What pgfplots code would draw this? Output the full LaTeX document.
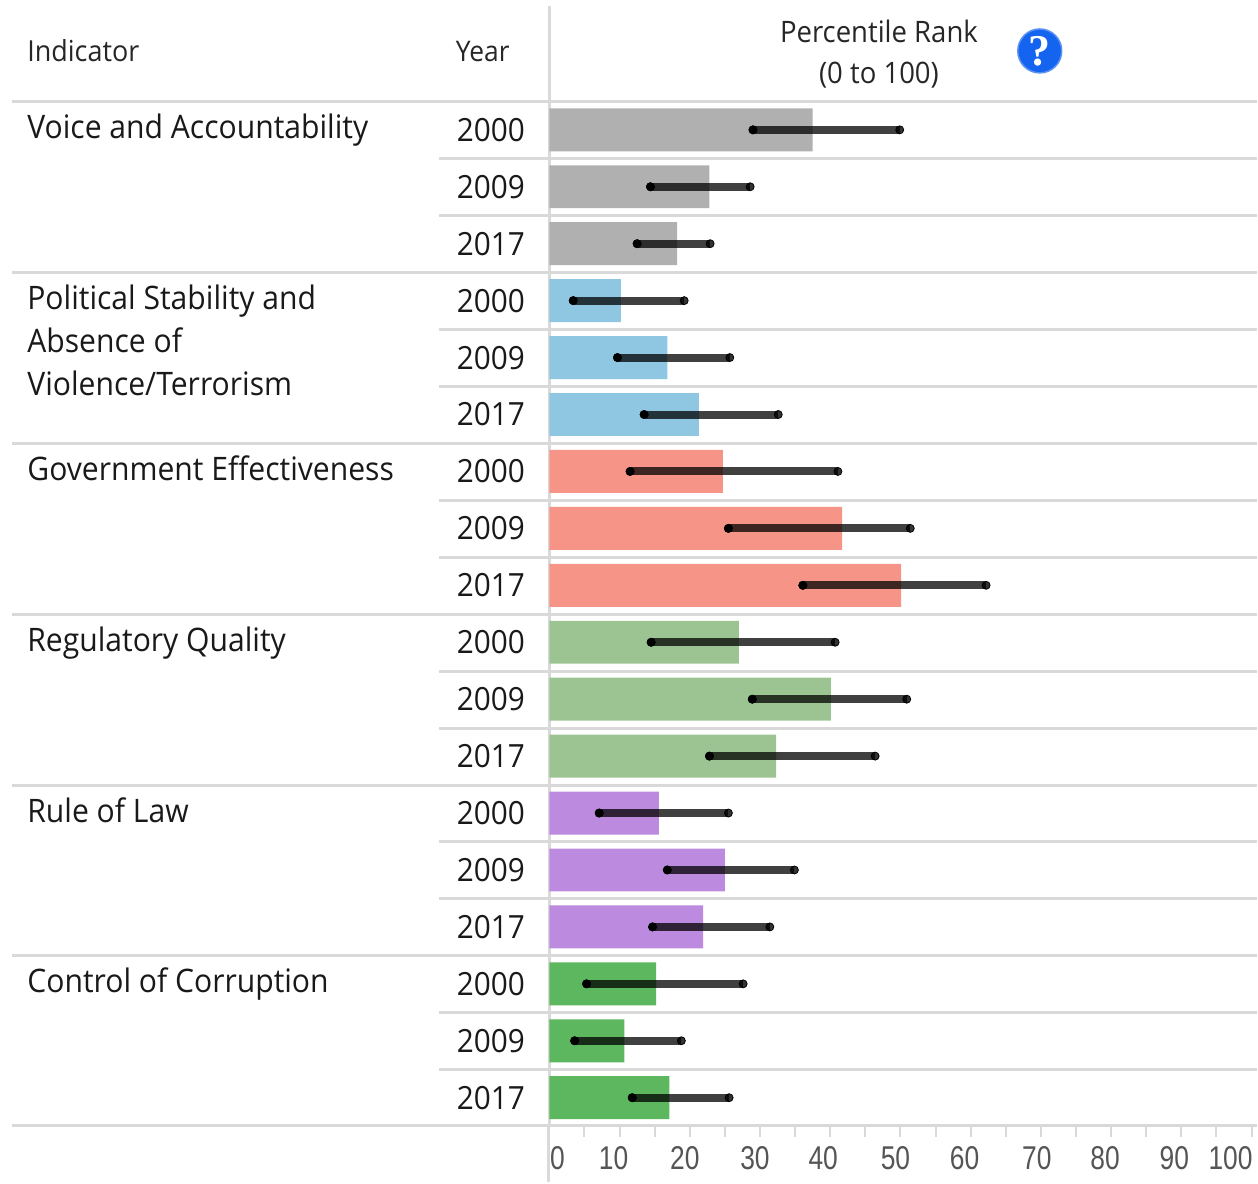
\documentclass[border=0pt]{standalone}
\usepackage{fontspec}
\setmainfont[FakeStretch=0.93]{Open Sans}
\newfontfamily\tickfont[FakeStretch=0.8]{Liberation Sans}
\newfontfamily\iconfont{Liberation Serif}
\usepackage{pgfplots}
\usepackage{pgfplotstable}
\pgfplotsset{compat=1.18}

\definecolor{rulegray}{HTML}{D9D9D9}
\definecolor{tickgray}{HTML}{555555}
\definecolor{vagray}{HTML}{B0B0B0}
\definecolor{psblue}{HTML}{8FC7E3}
\definecolor{gesalmon}{HTML}{F79488}
\definecolor{rqgreen}{HTML}{9CC493}
\definecolor{rlpurple}{HTML}{BC8BDF}
\definecolor{ccgreen}{HTML}{5DB75F}
\definecolor{iconblue}{HTML}{1464F0}

% row  low  estimate  high
\pgfplotstableread{
row lo est hi
1 29.0 37.5 49.9
2 14.4 22.8 28.6
3 12.5 18.2 22.9
}\tabVA
\pgfplotstableread{
row lo est hi
4 3.4 10.2 19.2
5 9.7 16.8 25.7
6 13.5 21.3 32.6
}\tabPS
\pgfplotstableread{
row lo est hi
7 11.5 24.7 41.1
8 25.5 41.7 51.4
9 36.1 50.1 62.2
}\tabGE
\pgfplotstableread{
row lo est hi
10 14.5 27.0 40.7
11 28.9 40.1 50.9
12 22.8 32.3 46.4
}\tabRQ
\pgfplotstableread{
row lo est hi
13 7.1 15.6 25.5
14 16.8 25.0 34.9
15 14.7 21.9 31.4
}\tabRL
\pgfplotstableread{
row lo est hi
16 5.3 15.2 27.6
17 3.6 10.7 18.8
18 11.8 17.1 25.6
}\tabCC

% bar, interval and its two end dots for one indicator
\newcommand{\indicator}[2]{%
  \addplot[xbar, bar width=21.5pt, bar shift=0pt, fill=#2, draw=none] table[x=est, y=row] {#1};
  \addplot[only marks, mark=none, error bars/.cd, x dir=plus, x explicit, error mark=none,
    error bar style={line width=4pt, black, opacity=0.75}]
    table[x=lo, y=row, x error expr=\thisrow{hi}-\thisrow{lo}] {#1};
  \addplot[only marks, mark=*, mark size=2pt, mark options={draw=none, fill=black, fill opacity=0.8}] table[x=lo, y=row] {#1};
  \addplot[only marks, mark=*, mark size=2pt, mark options={draw=none, fill=black, fill opacity=0.8}] table[x=hi, y=row] {#1};
}
\newcommand{\tl}[2]{\makebox[0pt]{\kern#1pt #2}}
\newcommand{\lbl}[2]{\node[anchor=base west, inner sep=0pt, font=\fontsize{16.2}{19}\selectfont, text=black!90] at (26,#1) {#2};}
\newcommand{\hdr}[3]{\node[anchor=base, inner sep=0pt, font=\fontsize{14.8}{17}\selectfont, text=black!85] at (#1,#2) {#3};}

\begin{document}
\begin{tikzpicture}
\begin{axis}[
  scale only axis,
  width=354pt, height=560.5pt,
  clip=false,
  y dir=reverse,
  xmin=0, xmax=100.71,
  ymin=-1.175, ymax=18.491,
  axis x line=bottom, axis y line=left,
  axis line style={draw=rulegray, line width=1.5pt, -},
  xtick={0,10,...,100},
  minor xtick={5,15,...,95},
  xticklabels={\tl{8}{0},\tl{-6}{10},\tl{-5}{20},\tl{-5}{30},\tl{-7}{40},\tl{-5}{50},\tl{-6}{60},\tl{-4}{70},\tl{-6}{80},\tl{-7}{90},\tl{-21}{100}},
  x tick label style={font=\tickfont\fontsize{16.5}{19}\selectfont, text=tickgray, inner sep=0pt, yshift=-4.5pt},
  major tick length=5.5pt, minor tick length=5.5pt,
  x tick style={draw=rulegray, line width=1pt},
  tick align=outside,
  ytick={1,...,18},
  yticklabels={2000,2009,2017,2000,2009,2017,2000,2009,2017,2000,2009,2017,2000,2009,2017,2000,2009,2017},
  y tick style={draw=none},
  y tick label style={font=\fontsize{16}{19}\selectfont, text=black!90, anchor=east, inner sep=0pt, xshift=-6.5pt},
]
\indicator{\tabVA}{vagray}
\indicator{\tabPS}{psblue}
\indicator{\tabGE}{gesalmon}
\indicator{\tabRQ}{rqgreen}
\indicator{\tabRL}{rlpurple}
\indicator{\tabCC}{ccgreen}
\end{axis}
% header, row rules and indicator names, in pixels of the page (page starts one px up and left of 0,0)
\begin{scope}[x=0.5pt, y=-0.5pt, shift={(-549,-1126)}]
  \path (-1,-1) rectangle (1257,1182);
  \draw[rulegray, line width=1.5pt] (548.5,1126) -- (548.5,1182);
  \foreach \y in {101,272,443,614,785,956,1126}
    \draw[rulegray, line width=1.5pt] (11,\y) -- (1257,\y);
  \foreach \y in {158,215,329,386,500,557,671,728,842,899,1013,1070}
    \draw[rulegray, line width=1.5pt] (439,\y) -- (1257,\y);
  \node[anchor=base west, inner sep=0pt, font=\fontsize{14.5}{17}\selectfont, text=black!85] at (26,61) {Indicator};
  \node[anchor=base west, inner sep=0pt, font=\fontsize{14.2}{17}\selectfont, text=black!85] at (455,61) {Year};
  \hdr{879}{42}{Percentile Rank}
  \hdr{879}{83}{(0 to 100)}
  \lbl{138}{Voice and Accountability}
  \lbl{309}{Political Stability and}
  \lbl{352}{Absence of}
  \lbl{395}{Violence/Terrorism}
  \lbl{480}{Government Effectiveness}
  \lbl{651}{Regulatory Quality}
  \lbl{822}{Rule of Law}
  \lbl{993}{Control of Corruption}
  \fill[iconblue, draw=iconblue!70, line width=0.75pt] (1040,50) circle[radius=22];
  \node[text=white, font=\iconfont\fontsize{22}{24}\bfseries\selectfont] at (1040,50) {?};
\end{scope}
\end{tikzpicture}
\end{document}
